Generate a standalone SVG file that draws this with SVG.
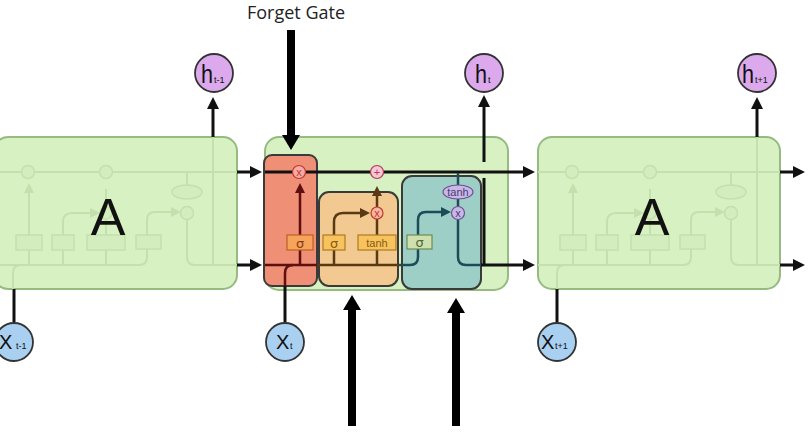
<svg xmlns="http://www.w3.org/2000/svg" xmlns:xlink="http://www.w3.org/1999/xlink" width="812" height="439" viewBox="0 0 812 439">
<style>
.cell{fill:#d8f1c3;stroke:#95bb80;stroke-width:2}
.fd{fill:none;stroke:#c3e0ad;stroke-width:2}
.fdb{fill:#d4edbf;stroke:#c3e0ad;stroke-width:1.5}
.blk{fill:none;stroke:#111;stroke-width:3}
.thk{fill:none;stroke:#000;stroke-width:8}
.gate{stroke:#3a3a3a;stroke-width:2}
.red{fill:none;stroke:#5e0f0f;stroke-width:2.5}
.brn{fill:none;stroke:#5a3a12;stroke-width:2.5}
.tea{fill:none;stroke:#1d4b58;stroke-width:2.5}
.big{font-family:"Liberation Sans",Arial,sans-serif;fill:#111}
.lbl{font-family:"Open Sans","Liberation Sans",sans-serif;font-size:18px;fill:#222}
.sm{font-family:"Liberation Sans",Arial,sans-serif;font-size:11px;text-anchor:middle}
.sg{font-family:"DejaVu Sans","Liberation Sans",sans-serif;font-size:13px;text-anchor:middle}
.op{font-family:"Liberation Sans",Arial,sans-serif;font-size:11px;text-anchor:middle}
.hc{fill:#dcaaec;stroke:#333;stroke-width:1.8}
.xc{fill:#a9d0f0;stroke:#333;stroke-width:1.8}
</style>
<defs>
<marker id="ah" viewBox="0 0 12 12" refX="6" refY="6" markerWidth="12" markerHeight="12" markerUnits="userSpaceOnUse" orient="auto"><path d="M0,0 L12,6 L0,12 z" fill="#111"/></marker>
<marker id="bh" viewBox="0 0 15 18" refX="5" refY="9" markerWidth="15" markerHeight="18" markerUnits="userSpaceOnUse" orient="auto"><path d="M0,0 L15,9 L0,18 z" fill="#000"/></marker>
<marker id="rh" viewBox="0 0 10 10" refX="5" refY="5" markerWidth="10" markerHeight="10" markerUnits="userSpaceOnUse" orient="auto"><path d="M0,0 L10,5 L0,10 z" fill="#5e0f0f"/></marker>
<marker id="nh" viewBox="0 0 10 10" refX="5" refY="5" markerWidth="10" markerHeight="10" markerUnits="userSpaceOnUse" orient="auto"><path d="M0,0 L10,5 L0,10 z" fill="#5a3a12"/></marker>
<marker id="th" viewBox="0 0 10 10" refX="5" refY="5" markerWidth="10" markerHeight="10" markerUnits="userSpaceOnUse" orient="auto"><path d="M0,0 L10,5 L0,10 z" fill="#1d4b58"/></marker>
<marker id="fh" viewBox="0 0 10 10" refX="5" refY="5" markerWidth="10" markerHeight="10" markerUnits="userSpaceOnUse" orient="auto"><path d="M0,0 L10,5 L0,10 z" fill="#c3e0ad"/></marker>
<g id="faded">
<path class="fd" d="M0,172 H243"/>
<path class="fd" d="M35,265 V188" marker-end="url(#fh)"/>
<path class="fd" d="M69,265 V222 Q69,213 78,213 H101" marker-end="url(#fh)"/>
<path class="fd" d="M112,265 V219 M112,207 V189"/>
<path class="fd" d="M0,265 H145 Q153,265 153,257 V220 Q153,212 161,212 H182" marker-end="url(#fh)"/>
<path class="fd" d="M193,172 V185 M193,219 V257 Q193,265 201,265 H243"/>
<path class="fd" d="M219,137 V265"/>
<path class="fd" d="M19,290 V273 Q19,265 27,265"/>
<circle class="fdb" cx="34" cy="172" r="6.5"/>
<circle class="fdb" cx="112" cy="172" r="6.5"/>
<circle class="fdb" cx="112" cy="213" r="6"/>
<circle class="fdb" cx="193" cy="213" r="6.5"/>
<ellipse class="fdb" cx="193" cy="192" rx="15" ry="7"/>
<rect class="fdb" x="22" y="235" width="26" height="15"/>
<rect class="fdb" x="58" y="235" width="22" height="15"/>
<rect class="fdb" x="93" y="235" width="38" height="15"/>
<rect class="fdb" x="142" y="235" width="25" height="14"/>
</g>
</defs>

<g id="cell-left">
<rect class="cell" x="-6" y="137" width="243" height="152" rx="14"/>
<use xlink:href="#faded" transform="translate(-6,0)"/>
<text class="big" x="108" y="235" font-size="52" text-anchor="middle">A</text>
</g>

<g id="cell-right">
<rect class="cell" x="538" y="137" width="242" height="152" rx="14"/>
<use xlink:href="#faded" transform="translate(538,0)"/>
<text class="big" x="652" y="235" font-size="52" text-anchor="middle">A</text>
</g>

<g id="cell-middle">
<rect class="cell" x="265" y="137" width="243" height="153" rx="14"/>
</g>
<g id="forget-gate">
<rect class="gate" x="264" y="155" width="53" height="131" rx="8" fill="#ee8f76"/>
</g>
<g id="input-gate">
<rect class="gate" x="319" y="192" width="79" height="94" rx="10" fill="#f2c991"/>
</g>
<g id="output-gate">
<rect class="gate" x="402" y="176" width="79" height="113" rx="10" fill="#9ecfc6"/>
</g>

<g id="connectors">
<path class="blk" d="M237,172 H256" marker-end="url(#ah)"/>
<path class="blk" d="M237,265 H256" marker-end="url(#ah)"/>
<path class="blk" d="M780,172 H799" marker-end="url(#ah)"/>
<path class="blk" d="M780,265 H799" marker-end="url(#ah)"/>
<path class="blk" d="M265,172 H529" stroke-width="2.5" marker-end="url(#ah)"/>
<path class="red" d="M265,265 H317"/>
<path class="brn" d="M317,265 H399"/>
<path class="tea" d="M399,265 H410 Q418,265 418,257 V220 Q418,212 426,212 H446" marker-end="url(#th)"/>
<path class="blk" d="M14,322 V289"/>
<path class="blk" d="M285,322 V286"/>
<path class="red" d="M285,286 V273 Q285,265 293,265"/>
<path class="blk" d="M557,322 V289"/>
<path class="red" d="M300,265 V188" marker-end="url(#rh)"/>
<path class="brn" d="M334,265 V222 Q334,213 343,213 H365" marker-end="url(#nh)"/>
<path class="brn" d="M377,265 V219 M377,207 V192"/>
<path class="brn" d="M377,193 V191" marker-end="url(#nh)"/>
<path class="tea" d="M458,173 V185 M458,199 V206.5 M458,219.5 V257 Q458,265 466,265 H481"/>
<path class="blk" d="M481,265 H529" stroke-width="2.5" marker-end="url(#ah)"/>
<path class="blk" d="M484,265 V178" stroke-width="2.5"/>
<path class="blk" d="M484,162 V101" marker-end="url(#ah)"/>
<path class="blk" d="M213,137 V103" marker-end="url(#ah)"/>
<path class="blk" d="M757,137 V103" marker-end="url(#ah)"/>
<path class="thk" d="M291,30 V140" marker-end="url(#bh)"/>
<path class="thk" d="M352,426 V305" marker-end="url(#bh)"/>
<path class="thk" d="M456,426 V308" marker-end="url(#bh)"/>
</g>

<g id="ops">
<circle cx="299" cy="172" r="6.5" fill="#f6aaa6" stroke="#c0392b" stroke-width="1.2"/>
<text class="op" x="299" y="175.5" fill="#c0392b">x</text>
<circle cx="377" cy="172" r="6.5" fill="#f8c6d2" stroke="#b03a5a" stroke-width="1.2"/>
<text class="op" x="377" y="176" fill="#b03a5a">+</text>
<circle cx="377" cy="213" r="6" fill="#f6b6a0" stroke="#c0392b" stroke-width="1.2"/>
<text class="op" x="377" y="216.5" fill="#c0392b">x</text>
<circle cx="458" cy="213" r="6.5" fill="#c9b8e6" stroke="#6a4f95" stroke-width="1.2"/>
<text class="op" x="458" y="216.5" fill="#4a3a75">x</text>
<ellipse cx="458" cy="192" rx="15" ry="7" fill="#c9b8e6" stroke="#6a4f95" stroke-width="1.2"/>
<text class="sm" x="458" y="195.5" font-size="10" fill="#4a3a75">tanh</text>
<rect x="287" y="235" width="26" height="15" fill="#f6a35c" stroke="#c0601f" stroke-width="1.2"/>
<text class="sg" x="300" y="247.5" fill="#8a3a10">σ</text>
<rect x="323" y="235" width="22" height="15" fill="#f7c35e" stroke="#b07a20" stroke-width="1.2"/>
<text class="sg" x="334" y="247.5" fill="#8a5a10">σ</text>
<rect x="358" y="235" width="38" height="15" fill="#f7c35e" stroke="#b07a20" stroke-width="1.2"/>
<text class="sm" x="377" y="246.5" fill="#8a5a10">tanh</text>
<rect x="407" y="235" width="25" height="14" fill="#cfe0b0" stroke="#6f8a50" stroke-width="1.2"/>
<text class="sg" x="419.5" y="247" fill="#4a6a3a">σ</text>
</g>

<g id="h-prev"><circle class="hc" cx="214" cy="73" r="19"/><text class="big" x="201" y="83" font-size="25" textLength="12" lengthAdjust="spacingAndGlyphs">h</text><text class="big" x="214" y="83" font-size="9" fill="#3a2a4a">t-1</text></g>
<g id="h-t"><circle class="hc" cx="484" cy="73" r="19"/><text class="big" x="475" y="83" font-size="25" textLength="12" lengthAdjust="spacingAndGlyphs">h</text><text class="big" x="488" y="83" font-size="9" fill="#3a2a4a">t</text></g>
<g id="h-next"><circle class="hc" cx="757" cy="73" r="19"/><text class="big" x="742" y="83" font-size="25" textLength="12" lengthAdjust="spacingAndGlyphs">h</text><text class="big" x="755" y="83" font-size="9" fill="#3a2a4a">t+1</text></g>

<g id="x-prev"><circle class="xc" cx="14" cy="342" r="19"/><text class="big" x="-1" y="349" font-size="20" fill="#15253a">X</text><text class="big" x="16" y="349" font-size="9" fill="#2a3a5a">t-1</text></g>
<g id="x-t"><circle class="xc" cx="285" cy="342" r="19"/><text class="big" x="276" y="349" font-size="20" fill="#15253a">X</text><text class="big" x="290" y="349" font-size="9" fill="#2a3a5a">t</text></g>
<g id="x-next"><circle class="xc" cx="557" cy="342" r="19"/><text class="big" x="541" y="349" font-size="20" fill="#15253a">X</text><text class="big" x="555" y="349" font-size="9" fill="#2a3a5a">t+1</text></g>

<g id="label-forget"><text class="lbl" x="296" y="19" text-anchor="middle">Forget Gate</text></g>
</svg>
